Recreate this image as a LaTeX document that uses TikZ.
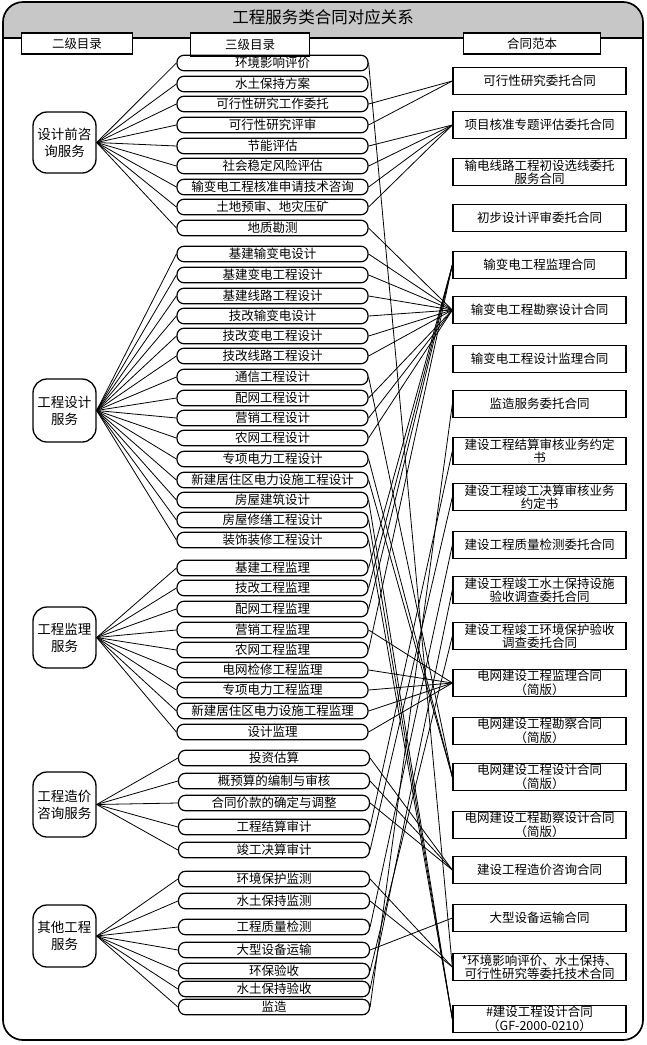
\documentclass[tikz,border=0pt]{standalone}
\usepackage{fontspec}
\newfontfamily\cjk{Noto Sans CJK SC}
\begin{document}
\begin{tikzpicture}[x=1pt,y=-1pt,
  midbox/.style={draw,line width=1.2pt,rounded corners=7pt,minimum width=191pt,minimum height=15.5pt,inner sep=0pt,font=\cjk\fontsize{12.5}{13}\selectfont},
  lftbox/.style={draw,line width=1.3pt,rounded corners=14pt,minimum width=63pt,inner sep=0pt,align=center,font=\cjk\fontsize{13.5}{17}\selectfont},
  rgtbox/.style={draw,line width=1.3pt,minimum width=173pt,minimum height=27pt,inner sep=0pt,align=center,font=\cjk\fontsize{12.5}{13.5}\selectfont},
  hdrbox/.style={draw,line width=1.3pt,fill=white,inner sep=0pt,font=\cjk\fontsize{12.5}{13}\selectfont},
  conn/.style={line width=0.8pt}]
\useasboundingbox (0,0) rectangle (646,1045);
% frame and title band
\begin{scope}
\clip (0,0) rectangle (646,38);
\fill[black!22, rounded corners=20pt] (3,2) rectangle (643,1040);
\end{scope}
\draw[line width=1.2pt] (3,38) -- (643,38);
\draw[line width=1.7pt, rounded corners=20pt] (3,2) rectangle (643,1040);
\node[font=\cjk\fontsize{16.5}{18}\selectfont] (title) at (323,17) {工程服务类合同对应关系};
% headers
\node[hdrbox,minimum width=111pt,minimum height=21pt] (h2) at (77,43.5) {二级目录};
\node[hdrbox,minimum width=119pt,minimum height=23pt] (h3) at (250,44.5) {三级目录};
\node[hdrbox,minimum width=137pt,minimum height=21pt] (hc) at (532,43.5) {合同范本};
% left boxes
\node[lftbox,minimum height=61pt] (L1) at (64.5,142.5) {设计前咨\\询服务};
\node[lftbox,minimum height=63pt] (L2) at (64.5,410.5) {工程设计\\服务};
\node[lftbox,minimum height=61pt] (L3) at (64.5,637.5) {工程监理\\服务};
\node[lftbox,minimum height=65pt] (L4) at (64.5,804.5) {工程造价\\咨询服务};
\node[lftbox,minimum height=62pt] (L5) at (64.5,936) {其他工程\\服务};
% middle boxes
\foreach \i/\y/\t in {1/63/环境影响评价,2/84/水土保持方案,3/104/可行性研究工作委托,4/125/可行性研究评审,5/146/节能评估,6/166/社会稳定风险评估,7/187/输变电工程核准申请技术咨询,8/207/土地预审、地灾压矿,9/228/地质勘测,
10/254/基建输变电设计,11/275/基建变电工程设计,12/296/基建线路工程设计,13/316/技改输变电设计,14/336/技改变电工程设计,15/356/技改线路工程设计,16/377/通信工程设计,17/398/配网工程设计,18/418/营销工程设计,19/438/农网工程设计,20/459/专项电力工程设计,21/480/新建居住区电力设施工程设计,22/500/房屋建筑设计,23/520/房屋修缮工程设计,24/540/装饰装修工程设计,
25/568/基建工程监理,26/588/技改工程监理,27/609/配网工程监理,28/630/营销工程监理,29/650/农网工程监理,30/670/电网检修工程监理,31/690/专项电力工程监理,32/711/新建居住区电力设施工程监理,33/732/设计监理}
  \node[midbox] (m\i) at (272.5,\y) {\t};
\foreach \i/\y/\t in {34/758/投资估算,35/781/概预算的编制与审核,36/803/合同价款的确定与调整,37/827/工程结算审计,38/850/竣工决算审计,
39/879/环境保护监测,40/901/水土保持监测,41/927/工程质量检测,42/950/大型设备运输,43/971/环保验收,44/989/水土保持验收,45/1007/监造}
  \node[midbox] (m\i) at (274,\y) {\t};
% right boxes
\node[rgtbox] (r1) at (539.5,81) {可行性研究委托合同};
\node[rgtbox] (r2) at (539.5,125) {项目核准专题评估委托合同};
\node[rgtbox] (r3) at (539.5,172) {输电线路工程初设选线委托\\服务合同};
\node[rgtbox] (r4) at (539.5,218) {初步设计评审委托合同};
\node[rgtbox] (r5) at (539.5,265) {输变电工程监理合同};
\node[rgtbox] (r6) at (539.5,310) {输变电工程勘察设计合同};
\node[rgtbox] (r7) at (539.5,359) {输变电工程设计监理合同};
\node[rgtbox] (r8) at (539.5,404) {监造服务委托合同};
\node[rgtbox] (r9) at (539.5,451) {建设工程结算审核业务约定\\书};
\node[rgtbox] (r10) at (539.5,497) {建设工程竣工决算审核业务\\约定书};
\node[rgtbox] (r11) at (539.5,545) {建设工程质量检测委托合同};
\node[rgtbox] (r12) at (539.5,590) {建设工程竣工水土保持设施\\验收调查委托合同};
\node[rgtbox] (r13) at (539.5,636) {建设工程竣工环境保护验收\\调查委托合同};
\node[rgtbox] (r14) at (539.5,683) {电网建设工程监理合同\\（简版）};
\node[rgtbox] (r15) at (539.5,731) {电网建设工程勘察合同\\（简版）};
\node[rgtbox] (r16) at (539.5,777) {电网建设工程设计合同\\（简版）};
\node[rgtbox] (r17) at (539.5,825) {电网建设工程勘察设计合同\\（简版）};
\node[rgtbox] (r18) at (539.5,870) {建设工程造价咨询合同};
\node[rgtbox] (r19) at (539.5,918) {大型设备运输合同};
\node[rgtbox] (r20) at (539.5,967) {*环境影响评价、水土保持、\\可行性研究等委托技术合同};
\node[rgtbox] (r21) at (539.5,1019) {\#建设工程设计合同\\（GF-2000-0210）};
% left connectors
\foreach \i in {1,...,9} \draw[conn] (L1.east) -- (m\i.west);
\foreach \i in {10,...,24} \draw[conn] (L2.east) -- (m\i.west);
\foreach \i in {25,...,33} \draw[conn] (L3.east) -- (m\i.west);
\foreach \i in {34,...,38} \draw[conn] (L4.east) -- (m\i.west);
\foreach \i in {39,...,45} \draw[conn] (L5.east) -- (m\i.west);
% right connectors
\foreach \a/\b in {1/20,3/1,4/1,5/2,6/2,7/2,8/2,9/6,10/6,11/6,12/6,13/6,14/6,15/6,16/16,17/6,18/6,19/6,20/16,21/16,22/21,23/21,24/21,
25/5,26/5,27/5,29/5,28/14,30/14,31/14,32/14,33/14,34/18,35/18,36/18,37/9,38/10,39/20,40/20,41/11,42/19,43/13,44/12,45/8}
  \draw[conn] (m\a.east) -- (r\b.west);
\end{tikzpicture}
\end{document}
